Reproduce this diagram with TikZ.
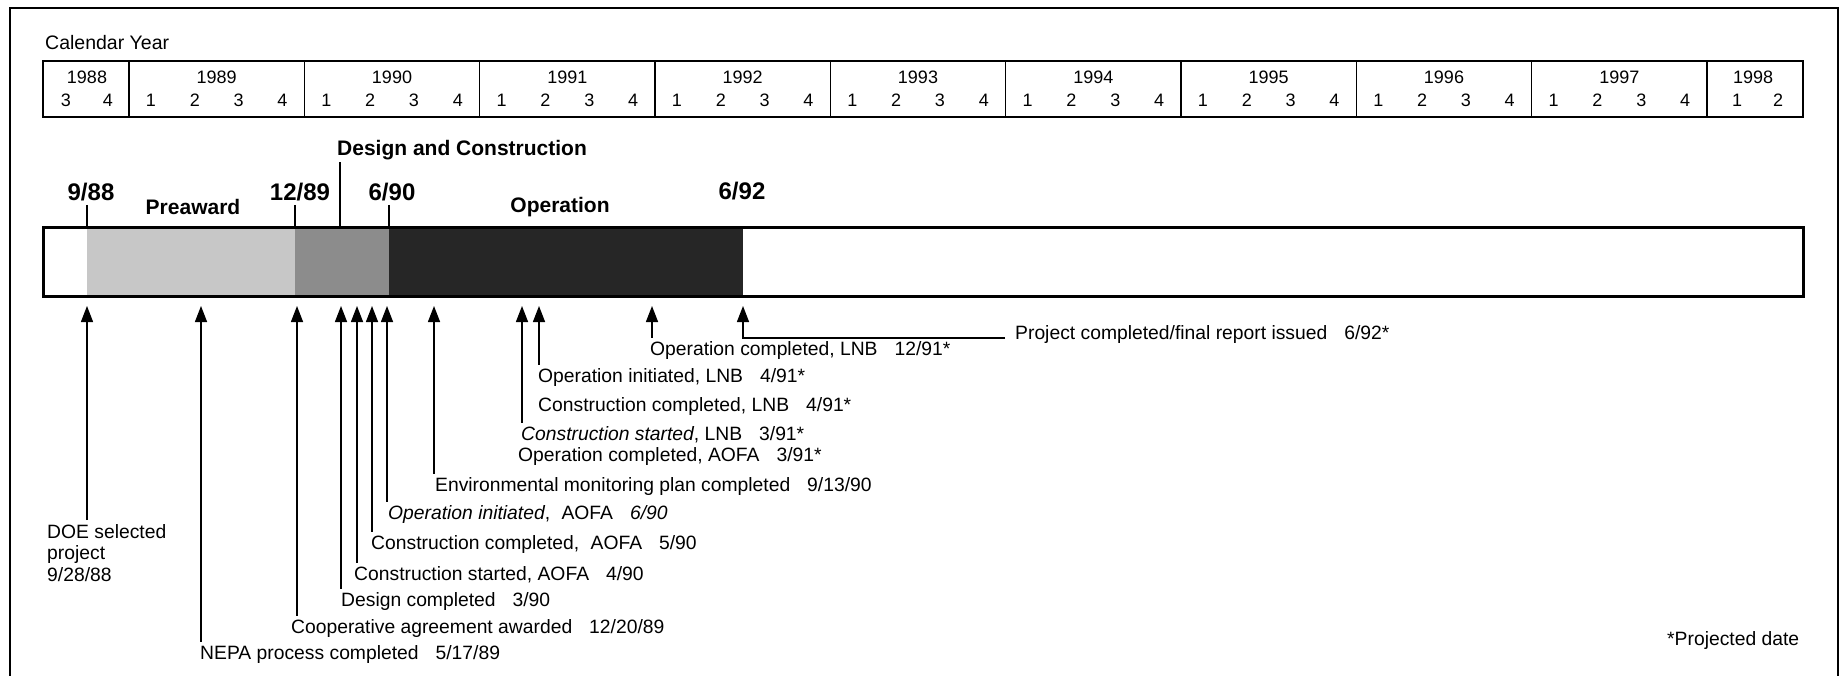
\documentclass[tikz,border=0pt]{standalone}
\usepackage{fontspec}
\setmainfont{Liberation Sans}
\usetikzlibrary{arrows.meta}
\newcommand{\dgap}{\hspace{17pt}}
\begin{document}
\begin{tikzpicture}[x=1pt,y=-1pt,
  lab/.style={anchor=west,inner sep=0pt,font=\fontsize{19.3}{21.5}\selectfont},
  bigdate/.style={inner sep=0pt,font=\fontsize{24}{28}\selectfont\bfseries},
  phase/.style={inner sep=0pt,font=\fontsize{21}{25}\selectfont\bfseries},
  hdr/.style={inner sep=0pt,font=\fontsize{18}{21}\selectfont},
  arr/.style={line width=1.4pt,-{Triangle[length=16pt,width=12pt]}},
  tickline/.style={line width=1.2pt}]
\useasboundingbox (0,0) rectangle (1843,676);
% outer frame
\draw[line width=2.5pt] (10,676) -- (10,8) -- (1838,8) -- (1838,676);
% header
\node[anchor=west,inner sep=0pt,font=\fontsize{19.5}{22}\selectfont] (cal) at (45,43) {Calendar Year};
\draw[line width=1.8pt] (43,61) rectangle (1803,117);
\foreach \k in {0,...,9} \draw[line width=1.5pt] (129+175.33*\k,61) -- (129+175.33*\k,117);
\node[hdr] (y1988) at (87,77) {1988};
\node[hdr] (q1988c) at (66,100) {3};
\node[hdr] (q1988d) at (108,100) {4};
\foreach \k/\yr in {0/1989,1/1990,2/1991,3/1992,4/1993,5/1994,6/1995,7/1996,8/1997}{
  \node[hdr] (y\yr) at (129+175.33*\k+87.67,77) {\yr};
  \foreach \q in {1,2,3,4}
    \node[hdr] (q\yr\q) at (129+175.33*\k+43.83*\q-21.9,100) {\q};
}
\node[hdr] (y1998) at (1753,77) {1998};
\node[hdr] (q1998a) at (1737,100) {1};
\node[hdr] (q1998b) at (1778,100) {2};
% bar
\fill[black!22] (87,228) rectangle (295,296);
\fill[black!45] (295,228) rectangle (389,296);
\fill[black!85] (389,228) rectangle (743,296);
\draw[line width=3pt] (43,228) rectangle (1803,296);
% ticks and phase labels
\coordinate (k1) at (87,228); \coordinate (k2) at (295,228);
\coordinate (k3) at (340,228); \coordinate (k4) at (389,228);
\node[bigdate] (d988) at (91,192) {9/88};
\node[bigdate] (d1289) at (300,192) {12/89};
\node[bigdate] (d690) at (392,192) {6/90};
\node[bigdate] (d692) at (742,191) {6/92};
\node[phase] (pre) at (193,207) {Preaward};
\node[phase,anchor=west] (dc) at (337,150) {Design and Construction};
\node[phase] (op) at (560,207) {Operation};
\draw[tickline] (87,205) -- (k1);
\draw[tickline] (295,205) -- (k2);
\draw[tickline] ([yshift=-2pt]dc.south west -| k3) -- (k3);
\draw[tickline] (389,205) -- (k4);
% arrow tips
\foreach \n/\x in {t1/87,t2/201,t3/297,t4/341,t5/357,t6/372,t7/387,t8/434,t9/522,t10/539,t11/652,t12/743}
  \coordinate (\n) at (\x,306);
% labels
\node[lab,align=left] (doe) at (47,553) {DOE selected\\project\\9/28/88};
\node[lab] (nepa) at (200,655) {NEPA process completed\dgap 5/17/89};
\node[lab] (coop) at (291,629) {Cooperative agreement awarded\dgap 12/20/89};
\node[lab] (des) at (341,602) {Design completed\dgap 3/90};
\node[lab] (csa) at (354,575) {Construction started, AOFA\dgap 4/90};
\node[lab] (cca) at (371,545) {Construction completed,\hspace{6pt} AOFA\dgap 5/90};
\node[lab] (oia) at (388,515) {\textit{Operation initiated},\hspace{6pt} AOFA\dgap \textit{6/90}};
\node[lab] (env) at (435,487) {Environmental monitoring plan completed\dgap 9/13/90};
\node[lab] (oca) at (518,457) {Operation completed, AOFA\dgap 3/91*};
\node[lab] (csl) at (521,435) {\textit{Construction started}, LNB\dgap 3/91*};
\node[lab] (ccl) at (538,407) {Construction completed, LNB\dgap 4/91*};
\node[lab] (oil) at (538,378) {Operation initiated, LNB\dgap 4/91*};
\node[lab] (ocl) at (650,351) {Operation completed, LNB\dgap 12/91*};
\node[lab] (proj) at (1015,335) {Project completed/final report issued\dgap 6/92*};
\node[lab] (pd) at (1667,641) {*Projected date};
% arrows
\draw[arr] ([yshift=4pt]doe.north -| t1) -- (t1);
\draw[arr] ([yshift=4pt]nepa.north -| t2) -- (t2);
\draw[arr] ([yshift=4pt]coop.north -| t3) -- (t3);
\draw[arr] ([yshift=4pt]des.north -| t4) -- (t4);
\draw[arr] ([yshift=4pt]csa.north -| t5) -- (t5);
\draw[arr] ([yshift=4pt]cca.north -| t6) -- (t6);
\draw[arr] ([yshift=4pt]oia.north -| t7) -- (t7);
\draw[arr] ([yshift=4pt]env.north -| t8) -- (t8);
\draw[arr] ([yshift=4pt]csl.north -| t9) -- (t9);
\draw[arr] ([yshift=4pt]oil.north -| t10) -- (t10);
\draw[arr] ([yshift=4pt]ocl.north -| t11) -- (t11);
\draw[arr] ([xshift=-10pt,yshift=-3pt]proj.west) -| (t12);
\end{tikzpicture}
\end{document}
